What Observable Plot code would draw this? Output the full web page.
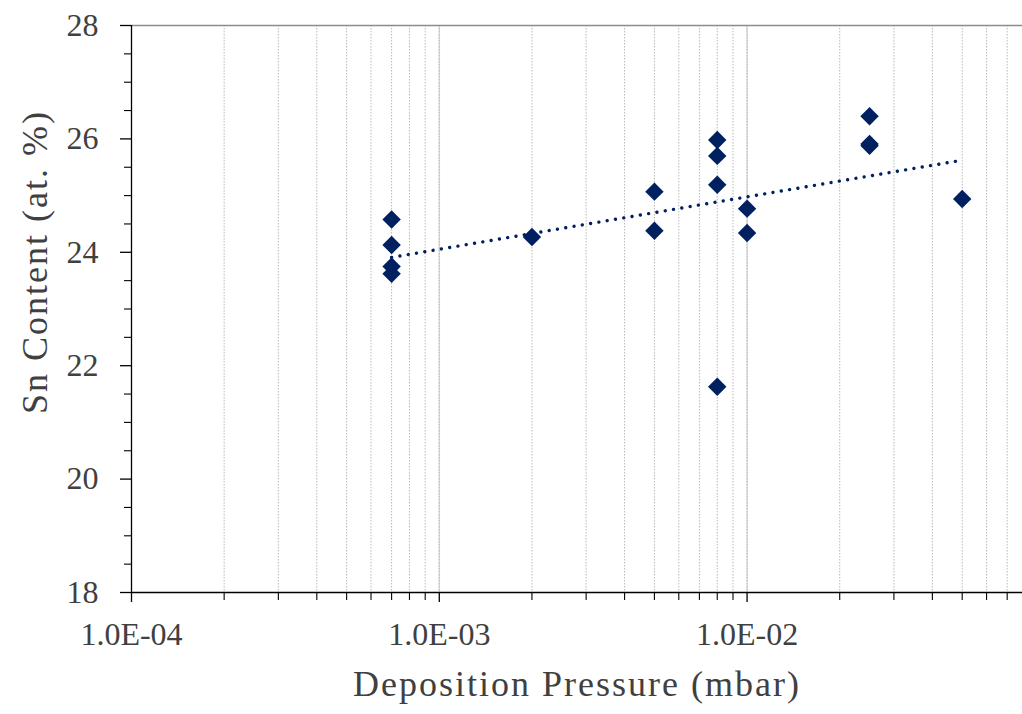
<!DOCTYPE html>
<html>
<head>
<meta charset="utf-8">
<script src="https://cdn.jsdelivr.net/npm/d3@7"></script>
<script src="https://cdn.jsdelivr.net/npm/@observablehq/plot@0.6"></script>
<style>
  html, body { margin: 0; padding: 0; background: #fff; }
  #chart svg { display: block; }
  .title-text text { letter-spacing: 2px; }
</style>
</head>
<body>
<div id="chart"></div>
<script>
// Data
const pressure = [7e-4, 7e-4, 7e-4, 7e-4, 2e-3, 5e-3, 5e-3, 8e-3, 8e-3, 8e-3, 8e-3, 1e-2, 1e-2, 2.5e-2, 2.5e-2, 2.5e-2, 5e-2];
const snContent = [24.58, 24.13, 23.75, 23.62, 24.27, 25.07, 24.38, 25.98, 25.70, 25.19, 21.63, 24.77, 24.34, 26.40, 25.88, 25.91, 24.94];

const xMajor = [1e-4, 1e-3, 1e-2];
const xTickLabels = ["1.0E-04", "1.0E-03", "1.0E-02"];
const yMajor = [18, 20, 22, 24, 26, 28];
const yTickLabels = ["18", "20", "22", "24", "26", "28"];
const xLabel = "Deposition Pressure (mbar)";
const yLabel = "Sn Content (at. %)";

const xDomain = [1e-4, 0.0785];
const yDomain = [18, 28];

const points = pressure.map((p, i) => ({p, sn: snContent[i]}));

// minor ticks
const xMinor = [];
for (const dec of [1e-4, 1e-3, 1e-2]) {
  for (let k = 2; k <= 9; k++) {
    const v = +(k * dec).toPrecision(3);
    if (v <= xDomain[1]) xMinor.push(v);
  }
}
const yMinor = d3.range(18.5, 28, 0.5).filter(v => v % 2 !== 0);

// logarithmic trendline (least squares on log10 of pressure)
const lx = pressure.map(Math.log10);
const mx = d3.mean(lx), my = d3.mean(snContent);
const slope = d3.sum(lx, (v, i) => (v - mx) * (snContent[i] - my)) / d3.sum(lx, v => (v - mx) ** 2);
const icpt = my - slope * mx;
const [pMin, pMax] = d3.extent(pressure);
const trend = [pMin, pMax].map(p => ({p, sn: icpt + slope * Math.log10(p)}));

const navy = "#002060";
const font = "'Palatino Linotype', 'Book Antiqua', Palatino, 'Liberation Serif', serif";

const chart = Plot.plot({
  width: 1022,
  height: 714,
  marginLeft: 131,
  marginRight: 0,
  marginTop: 25,
  marginBottom: 122,
  style: {fontFamily: font, color: "#404040", background: "#fff", overflow: "visible"},
  x: {type: "log", domain: xDomain},
  y: {domain: yDomain},
  marks: [
    Plot.gridX(xMajor.slice(1), {stroke: "#dedede", strokeOpacity: 1, strokeWidth: 1.6}),
    Plot.gridX(xMinor, {stroke: "#b8b8b8", strokeOpacity: 1, strokeWidth: 1, strokeDasharray: "1.5 1.5"}),
    Plot.gridX(xMajor.slice(1), {stroke: "#b8b8b8", strokeOpacity: 1, strokeWidth: 1, strokeDasharray: "1.5 1.5"}),
    Plot.ruleY([yDomain[1]], {stroke: "#8c8c8c", strokeWidth: 1.3}),
    Plot.ruleY([yDomain[0]], {stroke: "#000", strokeWidth: 1.3}),
    Plot.ruleX([xDomain[0]], {stroke: "#000", strokeWidth: 1.3}),
    Plot.axisY(yMajor, {tickSize: 11, tickPadding: 22, fontSize: 32, label: null, stroke: "#000", strokeWidth: 1.3,
      tickFormat: d => yTickLabels[yMajor.indexOf(d)]}),
    Plot.axisY(yMinor, {tickSize: 7, tickFormat: () => "", label: null, stroke: "#000", strokeWidth: 1.1}),
    Plot.axisX(xMajor, {tickSize: 10, tickPadding: 20, fontSize: 32, label: null, stroke: "#000", strokeWidth: 1.3,
      tickFormat: d => xTickLabels[xMajor.findIndex(v => Math.abs(v - d) < v * 1e-6)]}),
    Plot.axisX(xMinor, {tickSize: 8, tickFormat: () => "", label: null, stroke: "#000", strokeWidth: 1.1}),
    Plot.line(trend, {x: "p", y: "sn", stroke: navy, strokeWidth: 3.4, strokeLinecap: "round", strokeDasharray: "0.01 8.4"}),
    Plot.dot(points, {x: "p", y: "sn", symbol: "diamond2", r: 8.3, fill: navy, stroke: "none"}),
    Plot.text([xLabel], {text: d => d, frameAnchor: "bottom", textAnchor: "middle", lineAnchor: "middle", dy: 91.5, fontSize: 36, fill: "#404040", className: "title-text"}),
    Plot.text([yLabel], {text: d => d, frameAnchor: "left", textAnchor: "middle", lineAnchor: "middle", rotate: -90, dx: -96, dy: -47, fontSize: 36, fill: "#404040", className: "title-text"})
  ]
});
document.getElementById("chart").appendChild(chart);
</script>
</body>
</html>
